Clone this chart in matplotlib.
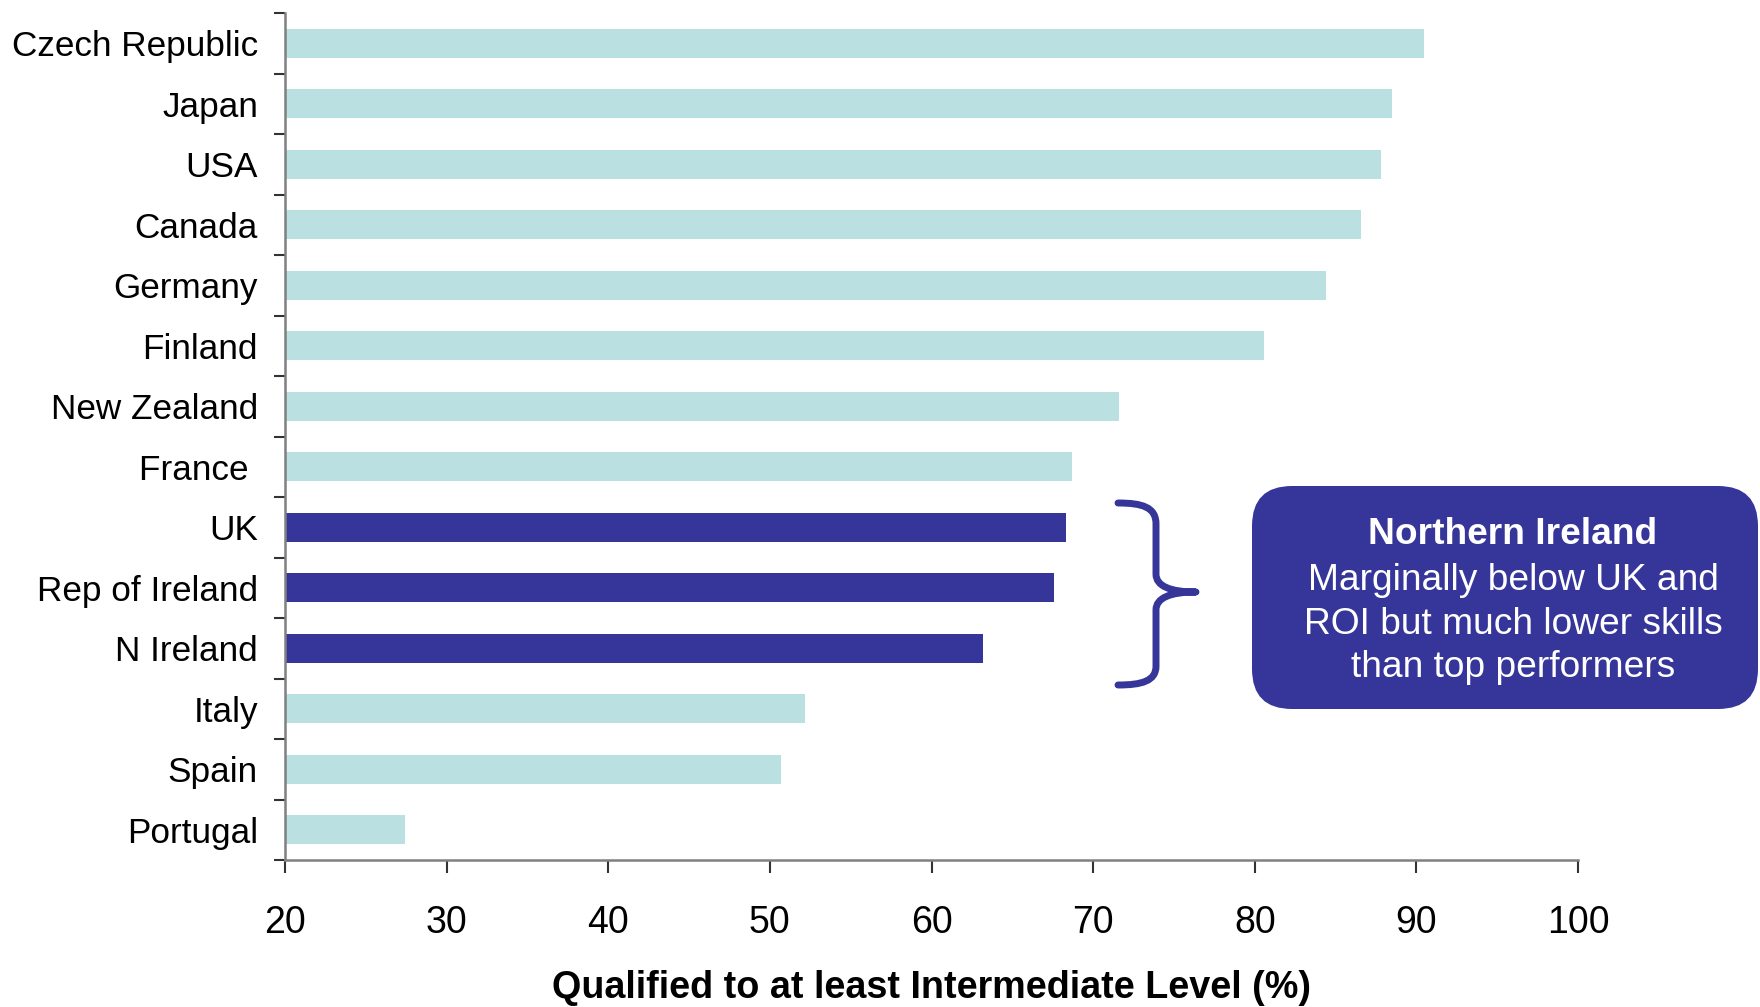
import matplotlib
matplotlib.use("Agg")
import matplotlib.pyplot as plt
from matplotlib.patches import FancyBboxPatch, PathPatch
from matplotlib.path import Path
from matplotlib.transforms import IdentityTransform

countries = ["Czech Republic", "Japan", "USA", "Canada", "Germany", "Finland",
             "New Zealand", "France ", "UK", "Rep of Ireland", "N Ireland",
             "Italy", "Spain", "Portugal"]
values = [90.5, 88.5, 87.8, 86.6, 84.4, 80.6, 71.6, 68.7, 68.3, 67.6, 63.2,
          52.2, 50.7, 27.4]
highlight = ["UK", "Rep of Ireland", "N Ireland"]
xticks = [20, 30, 40, 50, 60, 70, 80, 90, 100]
xlabel = "Qualified to at least Intermediate Level (%)"
box_title = "Northern Ireland"
box_text = "Marginally below UK and\nROI but much lower skills\nthan top performers"

LIGHT = "#BAE0E2"
DARK = "#35359A"
W, H = 1760, 1007

plt.rcParams['font.family'] = ['Liberation Sans', 'DejaVu Sans']
fig = plt.figure(figsize=(W / 100, H / 100), dpi=100)
ax = fig.add_axes([285 / W, 1 - 860 / H, (1578 - 285) / W, (860 - 13) / H])

ypos = list(range(len(countries)))
colors = [DARK if c in highlight else LIGHT for c in countries]
ax.barh(ypos, [v - 20 for v in values], left=20, height=0.48, color=colors)

ax.set_xlim(20, 100)
ax.set_ylim(len(countries) - 0.5, -0.5)
ax.set_xticks(xticks)
ax.set_xticklabels([str(t) for t in xticks], fontsize=27)
ax.set_yticks(ypos)
ax.set_yticklabels(countries, fontsize=25.3)
ax.set_yticks([i - 0.5 for i in range(len(countries) + 1)], minor=True)
ax.tick_params(axis='y', which='major', length=0, pad=19.5)
ax.tick_params(axis='y', which='minor', length=8, width=1.5, color='#333333')
ax.tick_params(axis='x', which='major', length=9.5, width=1.5, color='#333333', pad=23)

for s in ['top', 'right']:
    ax.spines[s].set_visible(False)
for s in ['left', 'bottom']:
    ax.spines[s].set_color('#808080')
    ax.spines[s].set_linewidth(1.8)

ax.set_xlabel(xlabel, fontsize=27.2, fontweight='bold', va='center')
ax.xaxis.set_label_coords(0.5, (860 - 988) / 847)

# brace (figure pixel coordinates, y from top)
def P(x, y):
    return (x, H - y)

verts = [P(1118, 503), P(1142, 503), P(1156, 507), P(1156, 524),
         P(1156, 574),
         P(1156, 586), P(1170, 592), P(1196, 592),
         P(1170, 592), P(1156, 598), P(1156, 610),
         P(1156, 666),
         P(1156, 681), P(1142, 685), P(1118, 685)]
codes = [Path.MOVETO, Path.CURVE4, Path.CURVE4, Path.CURVE4,
         Path.LINETO,
         Path.CURVE4, Path.CURVE4, Path.CURVE4,
         Path.CURVE4, Path.CURVE4, Path.CURVE4,
         Path.LINETO,
         Path.CURVE4, Path.CURVE4, Path.CURVE4]
brace = PathPatch(Path(verts, codes), facecolor='none', edgecolor=DARK,
                  linewidth=5, capstyle='round', joinstyle='round',
                  transform=IdentityTransform())
fig.patches.append(brace)

box = FancyBboxPatch((1252, H - 709), 1758 - 1252, 709 - 486,
                     boxstyle="round,pad=0,rounding_size=40",
                     facecolor=DARK, edgecolor='none',
                     transform=IdentityTransform())
fig.patches.append(box)

fig.text(1513 / W, 1 - 535 / H, box_title, color='white', fontsize=26.7,
         fontweight='bold', ha='center', va='center')
fig.text(1513 / W, 1 - 624 / H, box_text, color='white', fontsize=26.7,
         ha='center', va='center', linespacing=1.33)

fig.savefig("out.png", dpi=100)
